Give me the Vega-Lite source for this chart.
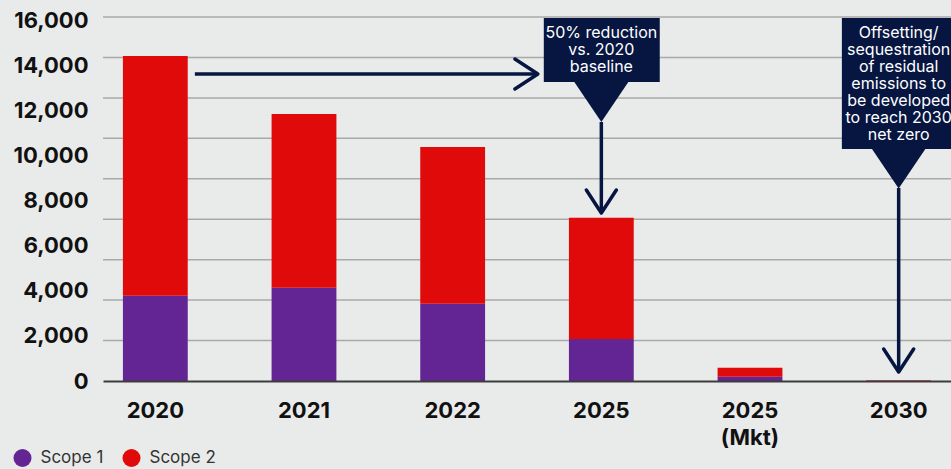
{
  "$schema": "https://vega.github.io/schema/vega-lite/v6.json",
  "width": 848,
  "height": 364,
  "autosize": {"type": "none"},
  "padding": {"left": 103, "top": 17, "right": 0, "bottom": 88},
  "background": "#e9eaea",
  "config": {"view": {"stroke": null}, "font": "Inter"},
  "data": {
    "values": [
      {"year": "2020", "scope": "Scope 1", "value": 3781},
      {"year": "2020", "scope": "Scope 2", "value": 10623},
      {"year": "2021", "scope": "Scope 1", "value": 4135},
      {"year": "2021", "scope": "Scope 2", "value": 7699},
      {"year": "2022", "scope": "Scope 1", "value": 3426},
      {"year": "2022", "scope": "Scope 2", "value": 6945},
      {"year": "2025", "scope": "Scope 1", "value": 1861},
      {"year": "2025", "scope": "Scope 2", "value": 5377},
      {"year": "2025 (Mkt)", "scope": "Scope 1", "value": 190},
      {"year": "2025 (Mkt)", "scope": "Scope 2", "value": 399},
      {"year": "2030", "scope": "Scope 1", "value": 12},
      {"year": "2030", "scope": "Scope 2", "value": 20}
    ]
  },
  "layer": [
    {
      "data": {"values": [{"g": 2000}, {"g": 4000}, {"g": 6000}, {"g": 8000}, {"g": 10000}, {"g": 12000}, {"g": 14000}, {"g": 16000}, {"g": 18000}]},
      "mark": {"type": "rule", "color": "#a9a9a9", "strokeWidth": 1.5},
      "encoding": {
        "y": {"field": "g", "type": "quantitative", "scale": {"domain": [0, 18000], "nice": false}, "axis": null}
      }
    },
    {
      "mark": {"type": "bar"},
      "encoding": {
        "x": {
          "field": "year", "type": "nominal", "sort": null,
          "scale": {"paddingInner": 0.564, "paddingOuter": 0.134},
          "axis": {
            "title": null, "labelAngle": 0, "labelFont": "Inter", "labelFontSize": 22, "labelFontWeight": "bold",
            "labelColor": "#111111", "labelPadding": 19, "ticks": false, "domainColor": "#3c3c3c", "domainWidth": 2,
            "labelLineHeight": 27, "zindex": 1,
            "labelExpr": "datum.value === '2025 (Mkt)' ? ['2025', '(Mkt)'] : datum.label"
          }
        },
        "y": {
          "field": "value", "type": "quantitative", "stack": "zero",
          "scale": {"domain": [0, 16133], "nice": false},
          "axis": {
            "title": null, "values": [0, 2000, 4000, 6000, 8000, 10000, 12000, 14000, 16000],
            "labelExpr": "format(datum.value, ',d')",
            "labelFont": "Inter", "labelFontSize": 22, "labelFontWeight": "bold", "labelColor": "#111111",
            "labelPadding": 15, "ticks": false, "domain": false, "grid": false
          }
        },
        "order": {"field": "scope", "sort": "ascending"},
        "color": {
          "field": "scope", "type": "nominal",
          "scale": {"domain": ["Scope 1", "Scope 2"], "range": ["#622593", "#e10a0a"]},
          "legend": {
            "title": null, "orient": "none", "direction": "horizontal", "legendX": -89.5, "legendY": 432,
            "padding": 0, "symbolType": "circle", "symbolSize": 324, "symbolStrokeWidth": 0, "symbolOpacity": 1,
            "labelFont": "Inter", "labelFontSize": 17, "labelColor": "#333333", "labelOffset": 9, "columnPadding": 19
          }
        }
      }
    },
    {
      "data": {"values": [{}]},
      "layer": [
        {
          "mark": {"type": "rule", "color": "#061641", "strokeWidth": 3.5},
          "encoding": {
            "x": {"datum": 0.266, "type": "quantitative", "scale": {"domain": [-0.352, 5.352], "nice": false, "zero": false}, "axis": null},
            "x2": {"datum": 2.56},
            "y": {"datum": 13607, "type": "quantitative", "scale": {"domain": [0, 16133], "nice": false}, "axis": null}
          }
        },
        {
          "mark": {"type": "point", "shape": "M-1.53,-1L0,0L-1.53,1", "size": 900, "filled": false, "color": "#061641", "strokeWidth": 3.5, "opacity": 1, "strokeCap": "round", "strokeJoin": "round"},
          "encoding": {
            "x": {"datum": 2.573, "type": "quantitative", "scale": {"domain": [-0.352, 5.352], "nice": false, "zero": false}, "axis": null},
            "y": {"datum": 13607, "type": "quantitative", "scale": {"domain": [0, 16133], "nice": false}, "axis": null}
          }
        },
        {
          "mark": {"type": "rect", "color": "#061641"},
          "encoding": {
            "x": {"datum": 2.613, "type": "quantitative", "scale": {"domain": [-0.352, 5.352], "nice": false, "zero": false}, "axis": null},
            "x2": {"datum": 3.393},
            "y": {"datum": 16089, "type": "quantitative", "scale": {"domain": [0, 16133], "nice": false}, "axis": null},
            "y2": {"datum": 13252}
          }
        },
        {
          "mark": {"type": "point", "shape": "M-1,-0.74L1,-0.74L0,0.74Z", "size": 2916, "filled": true, "color": "#061641", "strokeWidth": 0, "opacity": 1},
          "encoding": {
            "x": {"datum": 3.0, "type": "quantitative", "scale": {"domain": [-0.352, 5.352], "nice": false, "zero": false}, "axis": null},
            "y": {"datum": 12366, "type": "quantitative", "scale": {"domain": [0, 16133], "nice": false}, "axis": null}
          }
        },
        {
          "mark": {"type": "rule", "color": "#061641", "strokeWidth": 3.5},
          "encoding": {
            "x": {"datum": 3.0, "type": "quantitative", "scale": {"domain": [-0.352, 5.352], "nice": false, "zero": false}, "axis": null},
            "y": {"datum": 11479, "type": "quantitative", "scale": {"domain": [0, 16133], "nice": false}, "axis": null},
            "y2": {"datum": 7500}
          }
        },
        {
          "mark": {"type": "point", "shape": "M-1,-1.53L0,0L1,-1.53", "size": 900, "filled": false, "color": "#061641", "strokeWidth": 3.5, "opacity": 1, "strokeCap": "round", "strokeJoin": "round"},
          "encoding": {
            "x": {"datum": 3.0, "type": "quantitative", "scale": {"domain": [-0.352, 5.352], "nice": false, "zero": false}, "axis": null},
            "y": {"datum": 7446, "type": "quantitative", "scale": {"domain": [0, 16133], "nice": false}, "axis": null}
          }
        },
        {
          "mark": {"type": "text", "text": ["50% reduction", "vs. 2020", "baseline"], "color": "#ffffff", "font": "Inter", "fontSize": 16, "lineHeight": 17, "align": "center", "baseline": "top"},
          "encoding": {
            "x": {"datum": 3.0, "type": "quantitative", "scale": {"domain": [-0.352, 5.352], "nice": false, "zero": false}, "axis": null},
            "y": {"datum": 15778, "type": "quantitative", "scale": {"domain": [0, 16133], "nice": false}, "axis": null}
          }
        },
        {
          "mark": {"type": "rect", "color": "#061641", "clip": true},
          "encoding": {
            "x": {"datum": 4.618, "type": "quantitative", "scale": {"domain": [-0.352, 5.352], "nice": false, "zero": false}, "axis": null},
            "x2": {"datum": 5.4},
            "y": {"datum": 16089, "type": "quantitative", "scale": {"domain": [0, 16133], "nice": false}, "axis": null},
            "y2": {"datum": 10282}
          }
        },
        {
          "mark": {"type": "point", "shape": "M-1,-0.74L1,-0.74L0,0.74Z", "size": 2916, "filled": true, "color": "#061641", "strokeWidth": 0, "opacity": 1},
          "encoding": {
            "x": {"datum": 5.0, "type": "quantitative", "scale": {"domain": [-0.352, 5.352], "nice": false, "zero": false}, "axis": null},
            "y": {"datum": 9418, "type": "quantitative", "scale": {"domain": [0, 16133], "nice": false}, "axis": null}
          }
        },
        {
          "mark": {"type": "rule", "color": "#061641", "strokeWidth": 3.5},
          "encoding": {
            "x": {"datum": 5.0, "type": "quantitative", "scale": {"domain": [-0.352, 5.352], "nice": false, "zero": false}, "axis": null},
            "y": {"datum": 8554, "type": "quantitative", "scale": {"domain": [0, 16133], "nice": false}, "axis": null},
            "y2": {"datum": 450}
          }
        },
        {
          "mark": {"type": "point", "shape": "M-1,-1.53L0,0L1,-1.53", "size": 900, "filled": false, "color": "#061641", "strokeWidth": 3.5, "opacity": 1, "strokeCap": "round", "strokeJoin": "round"},
          "encoding": {
            "x": {"datum": 5.0, "type": "quantitative", "scale": {"domain": [-0.352, 5.352], "nice": false, "zero": false}, "axis": null},
            "y": {"datum": 399, "type": "quantitative", "scale": {"domain": [0, 16133], "nice": false}, "axis": null}
          }
        },
        {
          "mark": {"type": "text", "clip": true, "text": ["Offsetting/", "sequestration", "of residual", "emissions to", "be developed", "to reach 2030", "net zero"], "color": "#ffffff", "font": "Inter", "fontSize": 16, "lineHeight": 17, "align": "center", "baseline": "top"},
          "encoding": {
            "x": {"datum": 5.0, "type": "quantitative", "scale": {"domain": [-0.352, 5.352], "nice": false, "zero": false}, "axis": null},
            "y": {"datum": 15778, "type": "quantitative", "scale": {"domain": [0, 16133], "nice": false}, "axis": null}
          }
        }
      ]
    }
  ],
  "resolve": {"scale": {"x": "independent", "y": "independent"}}
}
